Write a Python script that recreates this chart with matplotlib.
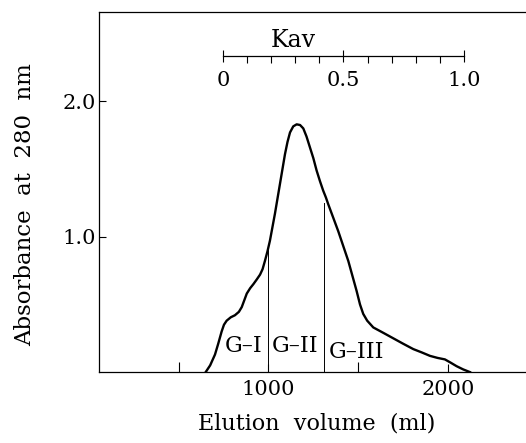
import matplotlib
matplotlib.use("Agg")
import matplotlib.pyplot as plt

# elution profile
volume = [650, 675, 702, 720, 739, 752, 767, 790, 813, 835, 851, 865, 879, 898, 916,
          935, 953, 967, 980, 994, 1008, 1022, 1036, 1050, 1064, 1078, 1092, 1106,
          1120, 1138, 1157, 1176, 1194, 1212, 1231, 1250, 1268, 1287, 1305, 1320,
          1333, 1361, 1389, 1417, 1445, 1468, 1491, 1510, 1528, 1550, 1584, 1640,
          1695, 1750, 1807, 1855, 1900, 1942, 1983, 2015, 2048, 2085, 2123]
absorb = [0.0, 0.05, 0.13, 0.21, 0.30, 0.35, 0.38, 0.405, 0.42, 0.445, 0.48, 0.53,
          0.58, 0.62, 0.65, 0.685, 0.72, 0.76, 0.82, 0.89, 0.97, 1.07, 1.17, 1.28,
          1.39, 1.50, 1.61, 1.70, 1.77, 1.815, 1.83, 1.825, 1.80, 1.74, 1.66, 1.58,
          1.49, 1.41, 1.34, 1.29, 1.24, 1.14, 1.04, 0.93, 0.82, 0.71, 0.60, 0.50,
          0.43, 0.38, 0.33, 0.29, 0.25, 0.21, 0.17, 0.145, 0.12, 0.105, 0.094, 0.07,
          0.044, 0.02, 0.0]

# fraction cut points (ml) and top of the cut lines
cut_volume = [999, 1311]
cut_top = [0.90, 1.25]

fraction_labels = ["G\u2013I", "G\u2013II", "G\u2013III"]
fraction_x = [862, 1150, 1492]
fraction_y = [0.19, 0.19, 0.15]

# Kav scale: Kav 0 and 1.0 sit at these elution volumes
kav_v0 = 748
kav_v1 = 2088
kav_ticks = [0, 0.5, 1.0]
kav_ticklabels = ["0", "0.5", "1.0"]

plt.rcParams["font.family"] = "DejaVu Serif"

fig = plt.figure(figsize=(5.26, 4.43), dpi=100)
ax = fig.add_axes([0.188, 0.160, 0.812, 0.813])

ax.plot(volume, absorb, color="black", linewidth=1.7)
for v, top in zip(cut_volume, cut_top):
    ax.plot([v, v], [0, top], color="black", linewidth=0.7)

for lab, x, y in zip(fraction_labels, fraction_x, fraction_y):
    ax.text(x, y, lab, fontsize=16, ha="center", va="center")

ax.set_xlim(55, 2435)
ax.set_ylim(0, 2.66)
ax.set_xticks([1000, 2000])
ax.set_xticks([500, 1500], minor=True)
ax.set_yticks([1.0, 2.0])
ax.set_yticklabels(["1.0", "2.0"])
ax.tick_params(which="both", direction="in", labelsize=15, width=0.8)
ax.tick_params(axis="x", which="major", length=6, pad=6)
ax.tick_params(axis="x", which="minor", length=7)
ax.tick_params(axis="y", length=5, pad=2)
ax.spines["right"].set_visible(False)
for s in ["left", "top", "bottom"]:
    ax.spines[s].set_linewidth(0.9)

ax.set_xlabel("Elution  volume  (ml)", fontsize=16)
ax.set_ylabel("Absorbance  at  280  nm", fontsize=16.5)
ax.xaxis.set_label_coords(0.51, -0.112)
ax.yaxis.set_label_coords(-0.146, 0.464)

# Kav scale drawn as a flat inset axis inside the plot
kax = ax.inset_axes([kav_v0, 2.335, kav_v1 - kav_v0, 0.0001], transform=ax.transData)
kax.patch.set_visible(False)
for s in ["left", "right", "top"]:
    kax.spines[s].set_visible(False)
kax.spines["bottom"].set_linewidth(0.9)
kax.set_yticks([])
kax.set_xlim(0, 1.0)
kax.set_xticks(kav_ticks)
kax.set_xticklabels(kav_ticklabels)
kax.set_xticks([0.1, 0.2, 0.3, 0.4, 0.6, 0.7, 0.8, 0.9], minor=True)
kax.tick_params(axis="x", which="major", direction="inout", length=9, width=0.8,
                labelsize=15, pad=6)
kax.tick_params(axis="x", which="minor", direction="out", length=5, width=0.8)
ax.text(1140, 2.45, "Kav", fontsize=17, ha="center", va="center")

fig.savefig("out.png", dpi=100)
